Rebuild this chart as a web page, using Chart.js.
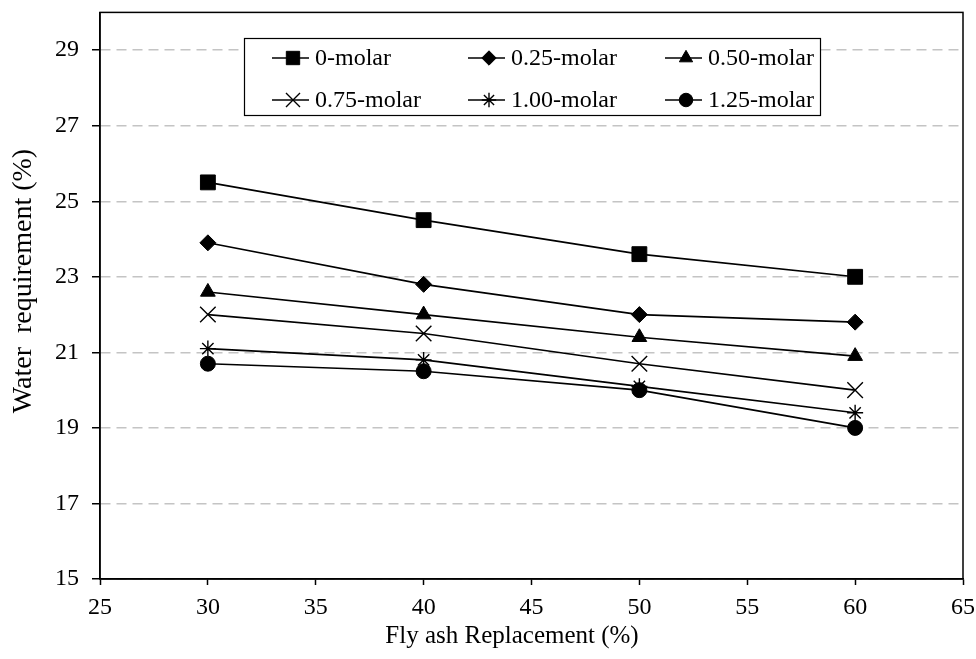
<!DOCTYPE html>
<html>
<head>
<meta charset="utf-8">
<script src="https://cdn.jsdelivr.net/npm/chart.js@4.4.1/dist/chart.umd.min.js"></script>
<style>
html,body{margin:0;padding:0;background:#fff;}
#wrap{width:976px;height:659px;position:relative;}
</style>
</head>
<body>
<div id="wrap"><canvas id="c" width="976" height="659"></canvas></div>
<script>
const replacement = [30, 40, 50, 60];
const molar0   = [25.5, 24.5, 23.6, 23.0];
const molar025 = [23.9, 22.8, 22.0, 21.8];
const molar050 = [22.6, 22.0, 21.4, 20.9];
const molar075 = [22.0, 21.5, 20.7, 20.0];
const molar100 = [21.1, 20.8, 20.1, 19.4];
const molar125 = [20.7, 20.5, 20.0, 19.0];
const seriesNames = ['0-molar','0.25-molar','0.50-molar','0.75-molar','1.00-molar','1.25-molar'];
const yTicks = [15, 17, 19, 21, 23, 25, 27, 29];
const xTicks = [25, 30, 35, 40, 45, 50, 55, 60, 65];
const xTitle = 'Fly ash Replacement (%)';
const yTitle = 'Water  requirement (%)';

const styles = ['rect','rectRot','triangle','crossRot','star','circle'];
const radii  = [10.5, 8, 8.5, 11, 8, 7.5];
const allSeries = [molar0, molar025, molar050, molar075, molar100, molar125];

const datasets = allSeries.map((vals, i) => ({
  label: seriesNames[i],
  data: vals.map((v, j) => ({x: replacement[j], y: v})),
  borderColor: '#000',
  backgroundColor: '#000',
  borderWidth: 1.6,
  pointStyle: styles[i],
  pointRadius: radii[i],
  pointBorderWidth: (styles[i]==='crossRot'||styles[i]==='star') ? 1.4 : 1,
  pointBorderColor: '#000',
  pointBackgroundColor: '#000',
  tension: 0,
  fill: false
}));

const FONT = '"Liberation Serif", "Times New Roman", serif';

const framePlugin = {
  id: 'frame',
  beforeDatasetsDraw(chart) {
    const {ctx, chartArea: a} = chart;
    ctx.save();
    ctx.strokeStyle = '#000';
    ctx.lineWidth = 1.5;
    ctx.strokeRect(a.left, a.top, a.right - a.left, a.bottom - a.top);
    ctx.restore();
  },
  afterDraw(chart) {
    const ctx = chart.ctx;
    ctx.save();
    // axis titles
    ctx.fillStyle = '#000';
    ctx.textAlign = 'center';
    ctx.textBaseline = 'middle';
    ctx.font = '25px ' + FONT;
    ctx.fillText(xTitle, 512, 636);
    ctx.save();
    ctx.translate(24, 281);
    ctx.rotate(-Math.PI / 2);
    ctx.font = '28px ' + FONT;
    ctx.fillText(yTitle, 0, 0);
    ctx.restore();
    // legend box
    const bx = 244, by = 38, bw = 576, bh = 77;
    ctx.fillStyle = '#fff';
    ctx.fillRect(bx, by, bw, bh);
    ctx.strokeStyle = '#000';
    ctx.lineWidth = 1.2;
    ctx.strokeRect(bx + 0.5, by + 0.5, bw, bh);
    const cols = [272, 468, 665];
    const rows = [58, 100];
    ctx.font = '24px ' + FONT;
    ctx.textBaseline = 'middle';
    ctx.textAlign = 'left';
    chart.data.datasets.forEach((ds, i) => {
      const cx = cols[i % 3], cy = rows[Math.floor(i / 3)];
      ctx.strokeStyle = '#000';
      ctx.lineWidth = 1.6;
      ctx.beginPath();
      ctx.moveTo(cx, cy);
      ctx.lineTo(cx + 37, cy);
      ctx.stroke();
      ctx.fillStyle = '#000';
      ctx.lineWidth = ds.pointBorderWidth;
      Chart.helpers.drawPoint(ctx, {pointStyle: ds.pointStyle, radius: ds.pointRadius * 0.9, rotation: 0, borderWidth: ds.pointBorderWidth}, cx + 21, cy);
      ctx.fillStyle = '#000';
      ctx.fillText(ds.label, cx + 43, cy + 1);
    });
    ctx.restore();
  }
};

new Chart(document.getElementById('c'), {
  type: 'line',
  data: { datasets },
  options: {
    responsive: false,
    animation: false,
    layout: { padding: { left: 0, right: 13, top: 12, bottom: 0 } },
    plugins: { legend: { display: false }, tooltip: { enabled: false } },
    scales: {
      x: {
        type: 'linear',
        min: 25, max: 65,
        afterBuildTicks(s) { s.ticks = xTicks.map(v => ({value: v})); },
        afterFit(s) { s.height = 80; s.paddingLeft = 0; s.paddingRight = 0; },
        grid: { drawOnChartArea: false, drawTicks: true, tickLength: 6, tickColor: '#000', tickWidth: 1.5 },
        border: { color: '#000', width: 1.5 },
        ticks: { color: '#000', font: { family: FONT, size: 24 }, padding: 8, maxRotation: 0 },
        title: { display: false }
      },
      y: {
        type: 'linear',
        min: 15, max: 30,
        afterBuildTicks(s) { s.ticks = yTicks.map(v => ({value: v})); },
        afterFit(s) { s.width = 100; s.paddingTop = 0; s.paddingBottom = 0; },
        grid: { color: '#c4c4c4', lineWidth: 1.5, drawTicks: true, tickLength: 8, tickColor: '#000', tickWidth: 1.5, tickBorderDash: [] },
        border: { color: '#000', width: 1.5, dash: [10, 6] },
        ticks: { color: '#000', font: { family: FONT, size: 24 }, padding: 13 },
        title: { display: false }
      }
    }
  },
  plugins: [framePlugin]
});
</script>
</body>
</html>
